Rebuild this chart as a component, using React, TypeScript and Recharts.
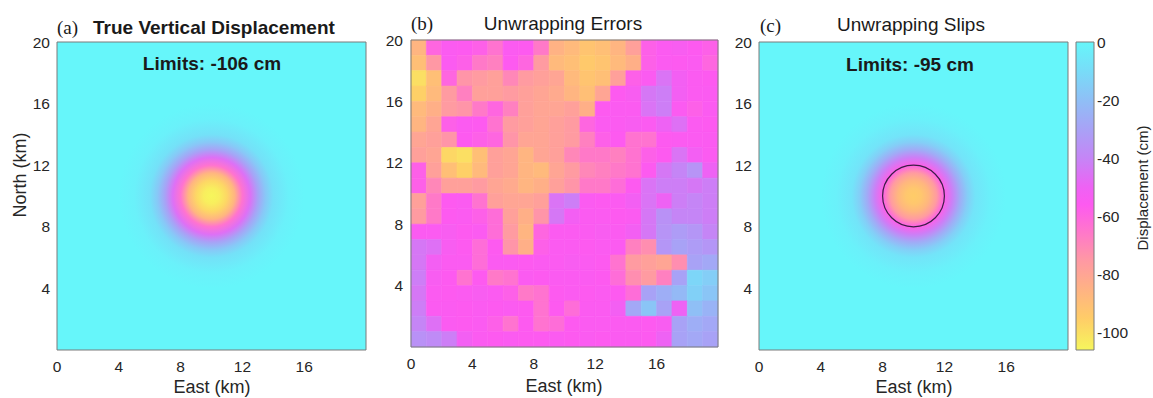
import React from 'react';
import { ReferenceArea, Scatter, ScatterChart, XAxis, YAxis } from 'recharts';

const sans = '"Liberation Sans", Arial, Helvetica, sans-serif';
const serif = '"Liberation Serif", "Times New Roman", serif';

const eastTicks = [0, 4, 8, 12, 16];
const northTicks = [4, 8, 12, 16, 20];
const colourbarTicks = [0, -20, -40, -60, -80, -100];
const colourLimit = -106;

// colour map: value (cm) -> colour
const cmapValues = [0, -10, -20, -30, -40, -50, -56, -65, -75, -85, -95, -106];
const cmapColours = [
  '#66f6fa', '#78dcf8', '#8fbff6', '#a8a2f6', '#c585f6', '#ee62f4',
  '#fd5af0', '#ff76cc', '#ff98a4', '#ffb284', '#ffcc68', '#f6f65c',
];

// uplift bowl, radial profile (km from centre -> cm)
const sourceCentre = { x: 10, y: 10 };
const profileRadius = [0, 0.5, 1, 1.5, 2, 2.5, 3, 3.5, 4, 5, 6];
const trueProfile = [-106, -104, -98, -86, -64, -46, -30, -17, -8, -2, 0];
const slipProfile = [-95, -93, -87, -76, -58, -42, -27, -15, -7, -2, 0];
const slipCircleRadius = 2;

// unwrapping error field, 1 km cells, rows from north (20 km) to south (0 km)
const errorField = [
  [-86, -60, -55, -56, -58, -64, -55, -56, -66, -85, -88, -92, -90, -86, -78, -58, -55, -54, -56, -58],
  [-90, -75, -55, -58, -66, -68, -56, -60, -76, -88, -90, -94, -92, -88, -84, -58, -55, -56, -55, -60],
  [-100, -90, -60, -74, -76, -78, -70, -76, -78, -80, -88, -92, -90, -78, -58, -55, -45, -52, -55, -56],
  [-96, -88, -76, -68, -78, -78, -76, -78, -80, -82, -86, -90, -80, -56, -54, -44, -42, -52, -55, -55],
  [-88, -84, -76, -74, -66, -60, -68, -78, -80, -80, -78, -84, -56, -55, -55, -45, -42, -55, -58, -55],
  [-86, -80, -58, -55, -56, -64, -76, -78, -80, -78, -76, -60, -55, -55, -54, -55, -50, -46, -55, -56],
  [-80, -78, -74, -56, -58, -60, -74, -80, -80, -78, -76, -68, -58, -56, -64, -64, -56, -55, -55, -55],
  [-78, -80, -98, -100, -90, -78, -80, -86, -80, -78, -70, -66, -66, -68, -64, -58, -56, -45, -52, -55],
  [-58, -78, -90, -96, -88, -78, -80, -86, -88, -80, -76, -70, -68, -66, -64, -56, -44, -40, -35, -50],
  [-58, -70, -78, -78, -76, -80, -82, -86, -84, -78, -74, -66, -66, -62, -56, -45, -42, -42, -44, -42],
  [-78, -66, -56, -55, -64, -78, -80, -80, -78, -45, -42, -55, -56, -55, -52, -45, -50, -42, -40, -42],
  [-76, -66, -56, -55, -58, -62, -78, -84, -74, -44, -52, -55, -55, -56, -55, -44, -36, -40, -40, -42],
  [-55, -55, -54, -56, -55, -62, -76, -86, -60, -55, -55, -55, -54, -55, -52, -44, -35, -32, -34, -40],
  [-44, -46, -54, -56, -62, -56, -74, -84, -58, -55, -55, -56, -55, -55, -68, -72, -34, -30, -32, -34],
  [-44, -52, -55, -55, -62, -55, -55, -56, -55, -55, -54, -55, -56, -64, -76, -78, -80, -72, -30, -28],
  [-42, -54, -56, -64, -56, -66, -64, -55, -56, -55, -55, -55, -56, -62, -72, -76, -68, -30, -12, -15],
  [-44, -55, -56, -55, -54, -55, -58, -66, -64, -56, -55, -56, -55, -56, -62, -30, -26, -22, -14, -18],
  [-42, -55, -55, -56, -55, -56, -55, -56, -64, -56, -62, -55, -55, -52, -28, -18, -30, -50, -20, -24],
  [-40, -46, -55, -56, -55, -58, -64, -56, -64, -62, -56, -55, -55, -55, -55, -56, -54, -30, -26, -28],
  [-36, -38, -42, -52, -55, -56, -55, -56, -56, -55, -56, -55, -56, -55, -55, -56, -50, -30, -28, -30],
];

function hexToRgb(h: string) {
  const n = parseInt(h.slice(1), 16);
  return [(n >> 16) & 255, (n >> 8) & 255, n & 255];
}

function colourFor(v: number) {
  const c = Math.max(colourLimit, Math.min(0, v));
  for (let i = 0; i < cmapValues.length - 1; i++) {
    const a = cmapValues[i];
    const b = cmapValues[i + 1];
    if (c <= a && c >= b) {
      const t = (a - c) / (a - b);
      const p = hexToRgb(cmapColours[i]);
      const q = hexToRgb(cmapColours[i + 1]);
      const m = p.map((x, k) => Math.round(x + (q[k] - x) * t));
      return `rgb(${m[0]},${m[1]},${m[2]})`;
    }
  }
  return cmapColours[cmapColours.length - 1];
}

const tickStyle = { fill: '#262626', fontSize: 15.5, fontFamily: sans };
const frameStroke = '#7a7a7a';
const hidden = () => <g />;

function BowlGradient({ id, profile }: { id: string; profile: number[] }) {
  const rMax = profileRadius[profileRadius.length - 1];
  return (
    <radialGradient id={id} cx="50%" cy="50%" r="50%">
      {profile.map((v, i) => (
        <stop key={i} offset={profileRadius[i] / rMax} stopColor={colourFor(v)} />
      ))}
    </radialGradient>
  );
}

function BowlPanel({
  id,
  profile,
  margin,
  width,
  showCircle,
}: {
  id: string;
  profile: number[];
  margin: { top: number; right: number; bottom: number; left: number };
  width: number;
  showCircle?: boolean;
}) {
  const rMax = profileRadius[profileRadius.length - 1];
  return (
    <ScatterChart width={width} height={398} margin={margin}>
      <defs>
        <BowlGradient id={id} profile={profile} />
      </defs>
      <XAxis
        type="number"
        dataKey="x"
        domain={[0, 20]}
        allowDataOverflow
        ticks={eastTicks}
        interval={0}
        tick={tickStyle}
        tickLine={false}
        axisLine={false}
        tickSize={0}
        tickMargin={11}
        height={46}
      />
      <YAxis
        type="number"
        dataKey="y"
        domain={[0, 20]}
        allowDataOverflow
        ticks={northTicks}
        interval={0}
        tick={tickStyle}
        tickLine={false}
        axisLine={false}
        tickSize={0}
        tickMargin={7}
        width={40}
      />
      <ReferenceArea x1={0} x2={20} y1={0} y2={20} fill={colourFor(0)} fillOpacity={1} stroke="none" />
      <ReferenceArea
        x1={sourceCentre.x - rMax}
        x2={sourceCentre.x + rMax}
        y1={sourceCentre.y - rMax}
        y2={sourceCentre.y + rMax}
        fill={`url(#${id})`}
        fillOpacity={1}
        stroke="none"
      />
      {showCircle && (
        <ReferenceArea
          x1={sourceCentre.x - slipCircleRadius}
          x2={sourceCentre.x + slipCircleRadius}
          y1={sourceCentre.y - slipCircleRadius}
          y2={sourceCentre.y + slipCircleRadius}
          shape={(p: any) => (
            <ellipse
              cx={p.x + p.width / 2}
              cy={p.y + p.height / 2}
              rx={Math.abs(p.width) / 2}
              ry={Math.abs(p.height) / 2}
              fill="none"
              stroke="#3c1e46"
              strokeWidth={1.2}
            />
          )}
        />
      )}
      <ReferenceArea x1={0} x2={20} y1={0} y2={20} fill="none" stroke={frameStroke} strokeWidth={1} />
      <Scatter data={[sourceCentre]} shape={hidden} isAnimationActive={false} />
    </ScatterChart>
  );
}

function ErrorPanel() {
  const rows = errorField.length;
  return (
    <ScatterChart width={370} height={398} margin={{ top: 40, right: 12, bottom: 5, left: 11 }}>
      <XAxis
        type="number"
        dataKey="x"
        domain={[0, 20]}
        allowDataOverflow
        ticks={eastTicks}
        interval={0}
        tick={tickStyle}
        tickLine={false}
        axisLine={false}
        tickSize={0}
        tickMargin={11}
        height={46}
      />
      <YAxis
        type="number"
        dataKey="y"
        domain={[0, 20]}
        allowDataOverflow
        ticks={northTicks}
        interval={0}
        tick={tickStyle}
        tickLine={false}
        axisLine={false}
        tickSize={0}
        tickMargin={8}
        width={40}
      />
      {errorField.flatMap((row, i) =>
        row.map((v, j) => (
          <ReferenceArea
            key={`${i}-${j}`}
            x1={j}
            x2={j + 1}
            y1={rows - 1 - i}
            y2={rows - i}
            fill={colourFor(v)}
            fillOpacity={1}
            stroke={colourFor(v)}
            strokeWidth={0.6}
          />
        ))
      )}
      <ReferenceArea x1={0} x2={20} y1={0} y2={20} fill="none" stroke={frameStroke} strokeWidth={1} />
      <Scatter data={[sourceCentre]} shape={hidden} isAnimationActive={false} />
    </ScatterChart>
  );
}

function ColourBar() {
  return (
    <ScatterChart width={93} height={398} margin={{ top: 42, right: 0, bottom: 48, left: 16 }}>
      <defs>
        <linearGradient id="cbar" x1="0" y1="0" x2="0" y2="1">
          {cmapValues.map((v, i) => (
            <stop key={i} offset={v / colourLimit} stopColor={cmapColours[i]} />
          ))}
        </linearGradient>
      </defs>
      <XAxis type="number" dataKey="x" domain={[0, 1]} allowDataOverflow hide />
      <YAxis
        type="number"
        dataKey="y"
        orientation="right"
        domain={[colourLimit, 0]}
        allowDataOverflow
        ticks={colourbarTicks}
        interval={0}
        tick={{ ...tickStyle, textAnchor: 'start' }}
        tickLine={false}
        axisLine={false}
        tickSize={0}
        tickMargin={3}
        width={59}
      />
      <ReferenceArea x1={0} x2={1} y1={colourLimit} y2={0} fill="url(#cbar)" fillOpacity={1} stroke={frameStroke} />
      <Scatter data={[{ x: 0.5, y: -50 }]} shape={hidden} isAnimationActive={false} />
    </ScatterChart>
  );
}

export default function App() {
  const t = { fontFamily: sans, fill: '#1a1a1a' };
  return (
    <div style={{ position: 'absolute', left: 0, top: 0, width: 1153, height: 398, background: '#fff', overflow: 'hidden' }}>
      <div style={{ position: 'absolute', left: 0, top: 0 }}>
        <BowlPanel id="trueBowl" profile={trueProfile} width={380} margin={{ top: 42, right: 14, bottom: 2, left: 17 }} />
      </div>
      <div style={{ position: 'absolute', left: 360, top: 0 }}>
        <ErrorPanel />
      </div>
      <div style={{ position: 'absolute', left: 715, top: 0 }}>
        <BowlPanel id="slipBowl" profile={slipProfile} width={360} margin={{ top: 42, right: 7, bottom: 2, left: 4 }} showCircle />
      </div>
      <div style={{ position: 'absolute', left: 1060, top: 0 }}>
        <ColourBar />
      </div>
      <svg width={1153} height={398} style={{ position: 'absolute', left: 0, top: 0, pointerEvents: 'none' }}>
        <text x={57} y={34} fontFamily={serif} fontSize={19} fill="#1a1a1a">(a)</text>
        <text x={93} y={34} {...t} fontSize={19} fontWeight="bold">True Vertical Displacement</text>
        <text x={212} y={70} {...t} fontSize={19} fontWeight="bold" textAnchor="middle">Limits: -106 cm</text>
        <text x={411} y={30} fontFamily={serif} fontSize={19} fill="#1a1a1a">(b)</text>
        <text x={563} y={30} {...t} fontSize={19} textAnchor="middle">Unwrapping Errors</text>
        <text x={760} y={32} fontFamily={serif} fontSize={19} fill="#1a1a1a">(c)</text>
        <text x={911} y={31} {...t} fontSize={19} textAnchor="middle">Unwrapping Slips</text>
        <text x={910} y={71} {...t} fontSize={19} fontWeight="bold" textAnchor="middle">Limits: -95 cm</text>
        <text x={212} y={393} {...t} fontSize={18} fill="#262626" textAnchor="middle">East (km)</text>
        <text x={564} y={392} {...t} fontSize={18} fill="#262626" textAnchor="middle">East (km)</text>
        <text x={914} y={393} {...t} fontSize={18} fill="#262626" textAnchor="middle">East (km)</text>
        <text x={26} y={175} {...t} fontSize={18} fill="#262626" textAnchor="middle" transform="rotate(-90 26 175)">North (km)</text>
        <text x={1148} y={188} {...t} fontSize={15} fill="#262626" textAnchor="middle" transform="rotate(-90 1148 188)">Displacement (cm)</text>
      </svg>
    </div>
  );
}
